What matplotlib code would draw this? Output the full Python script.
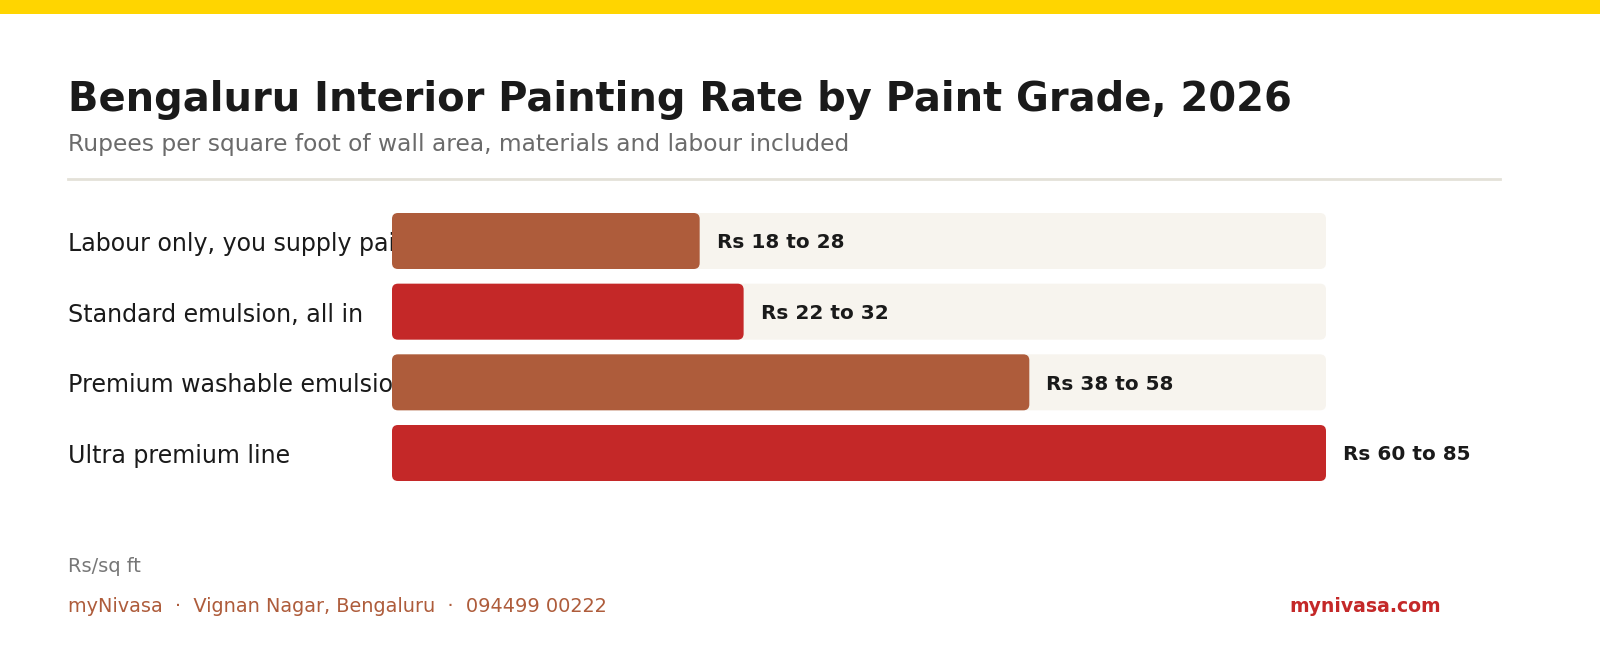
import matplotlib
matplotlib.use("Agg")
import matplotlib.pyplot as plt
from matplotlib.patches import FancyBboxPatch, Rectangle

categories = ["Labour only, you supply paint", "Standard emulsion, all in",
              "Premium washable emulsion", "Ultra premium line"]
low_vals = [18, 22, 38, 60]
high_vals = [28, 32, 58, 85]
value_labels = ["Rs 18 to 28", "Rs 22 to 32", "Rs 38 to 58", "Rs 60 to 85"]
bar_colors = ["#AE5C3B", "#C42828", "#AE5C3B", "#C42828"]
title = "Bengaluru Interior Painting Rate by Paint Grade, 2026"
subtitle = "Rupees per square foot of wall area, materials and labour included"
unit_note = "Rs/sq ft"
footer_left = "myNivasa  \u00b7  Vignan Nagar, Bengaluru  \u00b7  094499 00222"
footer_right = "mynivasa.com"

W, H = 1600, 662
FONT = "DejaVu Sans"
fig = plt.figure(figsize=(W / 100, H / 100), dpi=100)
fig.patch.set_facecolor("white")

def fy(py):
    return 1 - py / H

def fx(px):
    return px / W

renderer = fig.canvas.get_renderer()

def fit_size(s, target_w, size0=12, **kw):
    t = fig.text(0, 0, s, fontsize=size0, family=FONT, **kw)
    w = t.get_window_extent(renderer).width
    t.remove()
    return size0 * target_w / w

def fit_text(x, y, s, target_w, size0, **kw):
    t = fig.text(x, y, s, fontsize=size0, family=FONT, **kw)
    w = t.get_window_extent(renderer).width
    t.set_fontsize(size0 * target_w / w)
    return t

# yellow top band
fig.add_artist(Rectangle((0, fy(14)), 1, 14 / H, transform=fig.transFigure,
                         facecolor="#FFD500", edgecolor="none"))

fit_text(fx(68), fy(111), title, 1224, 30, fontweight="bold", color="#1A1A1A", va="baseline")
fit_text(fx(68), fy(151), subtitle, 784, 16, color="#6B6B6B", va="baseline")

# separator
fig.add_artist(plt.Line2D([fx(68), fx(1500)], [fy(179), fy(179)], transform=fig.transFigure,
                          color="#E4E1D8", lw=2))

# bar axes
row_c = [241, 312, 382, 453]
step = (row_c[-1] - row_c[0]) / 3
ax_top = row_c[0] - step / 2
ax_bot = row_c[-1] + step / 2
x0p, x1p = 392, 1326
ax = fig.add_axes([fx(x0p), fy(ax_bot), (x1p - x0p) / W, (ax_bot - ax_top) / H])
ax.set_xlim(0, 85)
ax.set_ylim(len(categories) - 0.5, -0.5)
ax.axis("off")
ax.patch.set_alpha(0)
ax.set_zorder(1)

px_x = (x1p - x0p) / 85.0
px_y = step
bh = 56 / step
r = 6 / px_x
ma = px_x / px_y
xmax = max(high_vals)
val_size = fit_size("Rs 22 to 32", 127, fontweight="bold")
for i, (hi, c) in enumerate(zip(high_vals, bar_colors)):
    track = FancyBboxPatch((0, i - bh / 2), xmax, bh,
                           boxstyle=f"round,pad=0,rounding_size={r}",
                           mutation_aspect=ma, facecolor="#F7F4EE", edgecolor="none",
                           zorder=2, clip_on=False)
    ax.add_patch(track)
    bar = FancyBboxPatch((0, i - bh / 2), hi, bh,
                         boxstyle=f"round,pad=0,rounding_size={r}",
                         mutation_aspect=ma, facecolor=c, edgecolor="none",
                         zorder=3, clip_on=False)
    ax.add_patch(bar)
    ax.text(hi + 17 / px_x, i, value_labels[i], fontsize=val_size, family=FONT,
            fontweight="bold", color="#1A1A1A", va="center_baseline", ha="left",
            zorder=4, clip_on=False)

# category labels below the bars (clipped by bars)
cat_size = fit_size("Standard emulsion, all in", 294)
for i, cat in enumerate(categories):
    fig.text(fx(68), fy(row_c[i]), cat, fontsize=cat_size, family=FONT, color="#1A1A1A",
             va="center_baseline", ha="left", zorder=0)

fit_text(fx(68), fy(572), unit_note, 73, 12, color="#777777", va="baseline")
fit_text(fx(68), fy(612), footer_left, 538, 13, color="#AE5C3B", va="baseline")
fit_text(fx(1289), fy(612), footer_right, 151, 13, color="#C42828",
         fontweight="bold", va="baseline")

fig.savefig("out.png", dpi=100, facecolor="white")
